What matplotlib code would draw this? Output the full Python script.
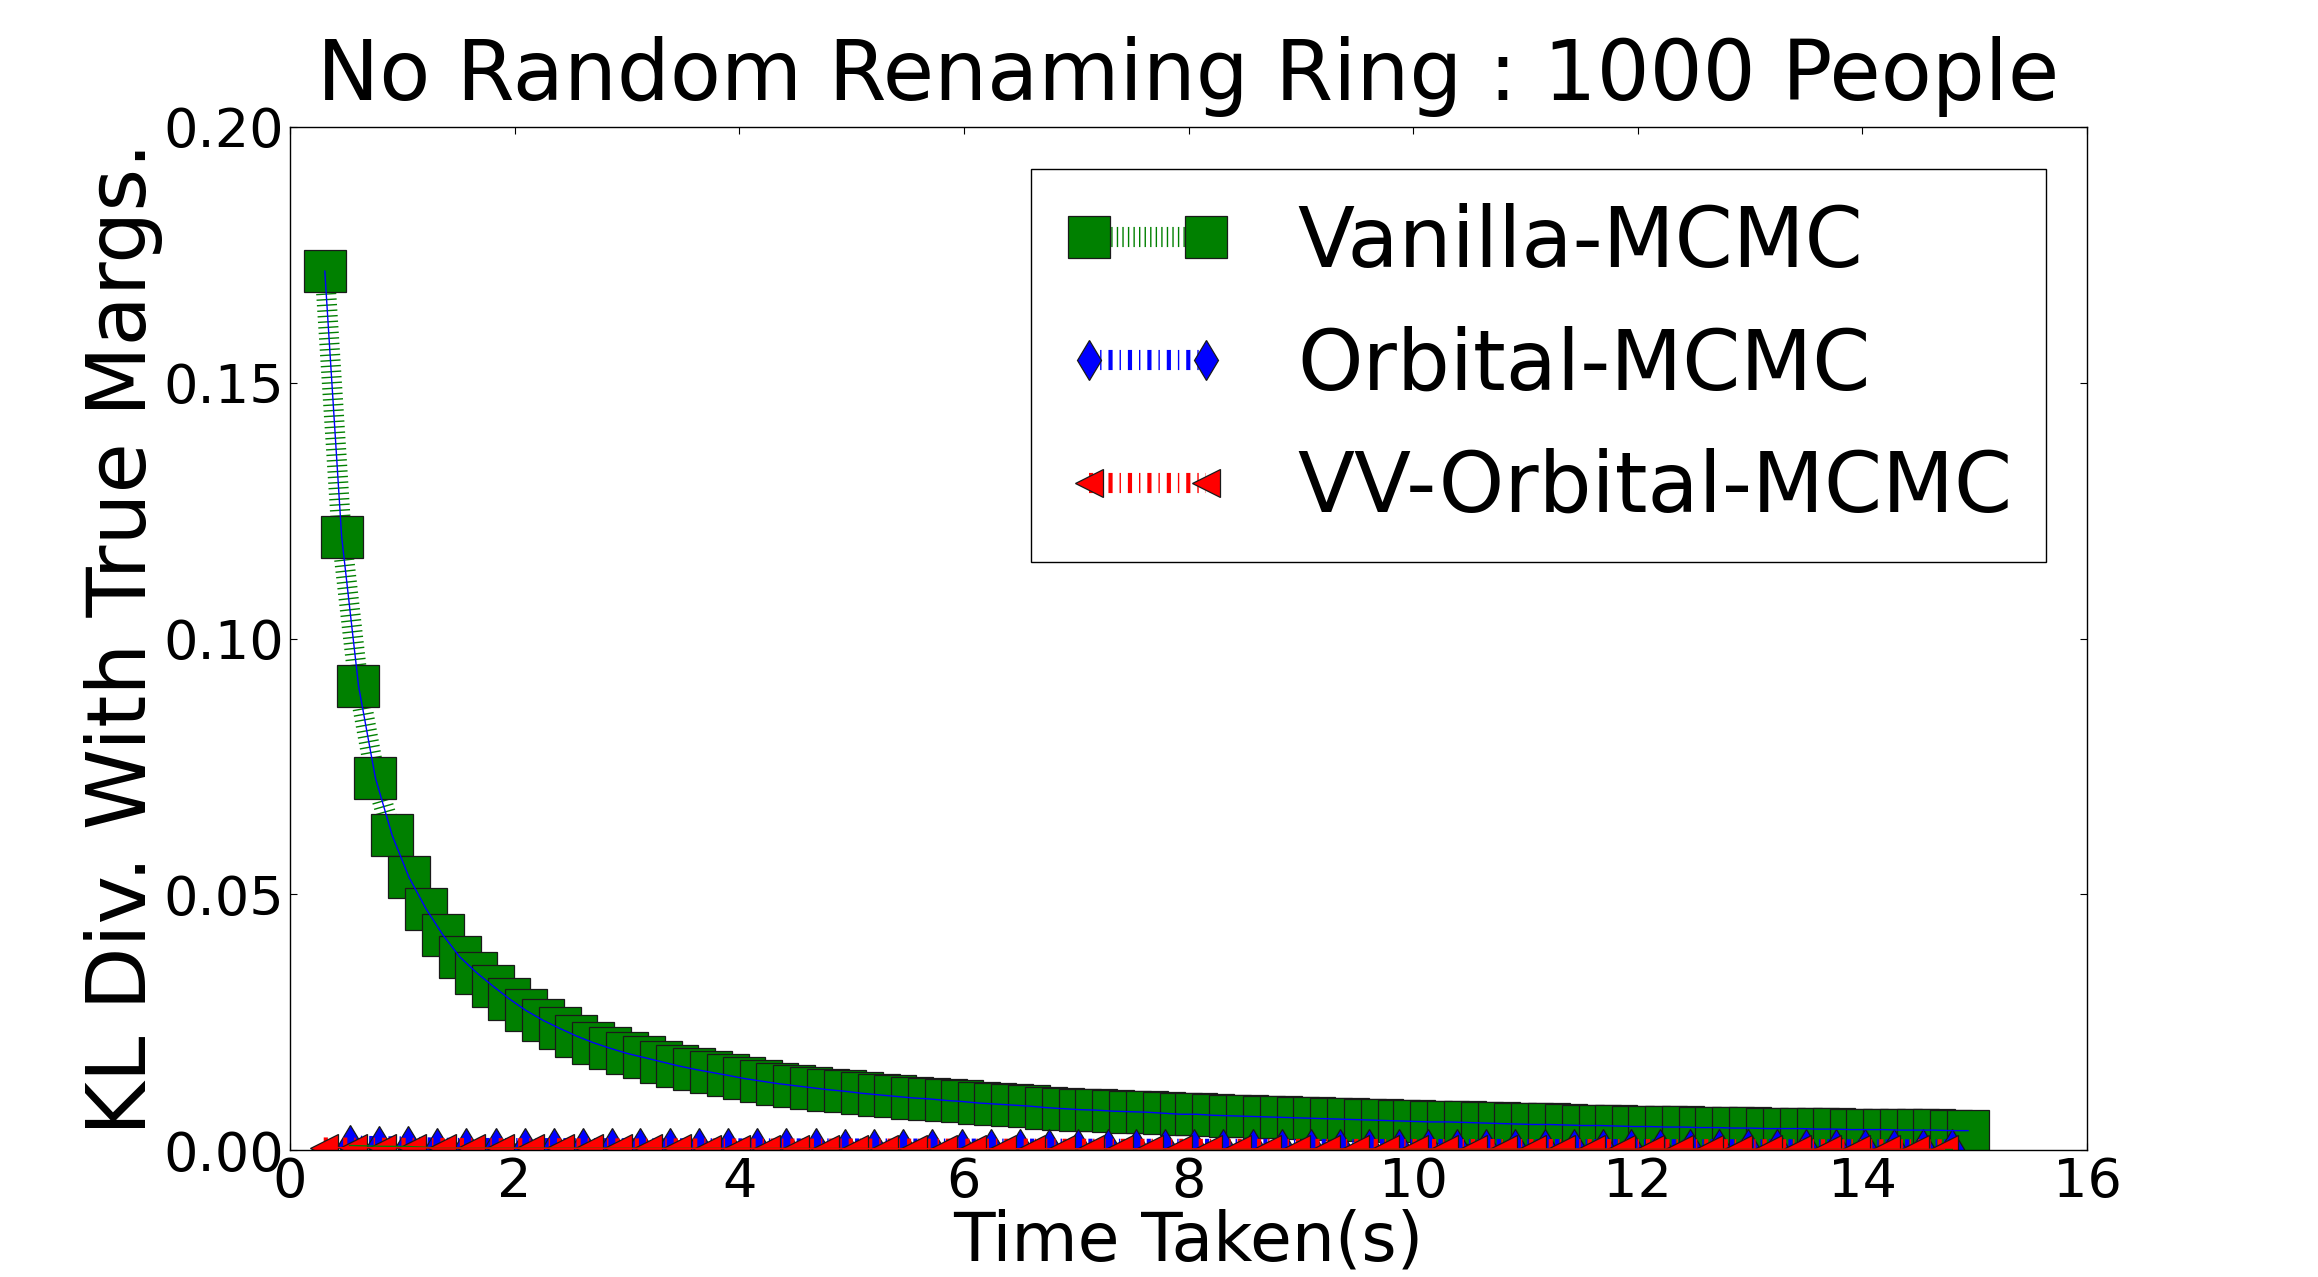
import matplotlib
matplotlib.use("Agg")
import matplotlib.pyplot as plt
from matplotlib.ticker import FormatStrFormatter

plt.rcParams['font.family'] = ['DejaVu Sans']
plt.rcParams['lines.scale_dashes'] = False

# time (s) and KL divergence
vanilla_t = [0.31, 0.46, 0.61, 0.76, 0.91, 1.06, 1.21, 1.36, 1.51, 1.66,
             1.81, 1.95, 2.10, 2.25, 2.40, 2.55, 2.70, 2.85, 3.00, 3.15,
             3.30, 3.45, 3.60, 3.75, 3.90, 4.04, 4.19, 4.34, 4.49, 4.64,
             4.79, 4.94, 5.09, 5.24, 5.39, 5.54, 5.69, 5.84, 5.98, 6.13,
             6.28, 6.43, 6.58, 6.73, 6.88, 7.03, 7.18, 7.33, 7.48, 7.63,
             7.78, 7.93, 8.07, 8.22, 8.37, 8.52, 8.67, 8.82, 8.97, 9.12,
             9.27, 9.42, 9.57, 9.72, 9.87, 10.01, 10.16, 10.31, 10.46, 10.61,
             10.76, 10.91, 11.06, 11.21, 11.36, 11.51, 11.66, 11.81, 11.96, 12.10,
             12.25, 12.40, 12.55, 12.70, 12.85, 13.00, 13.15, 13.30, 13.45, 13.60,
             13.75, 13.90, 14.04, 14.19, 14.34, 14.49, 14.64, 14.79, 14.94]
vanilla_kl = [0.1718, 0.1199, 0.0908, 0.0728, 0.0615, 0.0533, 0.0472, 0.0421, 0.0378, 0.0347,
              0.0320, 0.0296, 0.0273, 0.0254, 0.0238, 0.0223, 0.0210, 0.0199, 0.0189, 0.0181,
              0.0173, 0.0165, 0.0158, 0.0152, 0.0146, 0.0140, 0.0135, 0.0130, 0.0126, 0.0122,
              0.0118, 0.0115, 0.0111, 0.0108, 0.0105, 0.0102, 0.0100, 0.0097, 0.0095, 0.0092,
              0.0090, 0.0088, 0.0086, 0.0083, 0.0081, 0.0079, 0.0078, 0.0076, 0.0075, 0.0074,
              0.0072, 0.0070, 0.0070, 0.0068, 0.0067, 0.0066, 0.0065, 0.0064, 0.0063, 0.0062,
              0.0061, 0.0060, 0.0059, 0.0058, 0.0057, 0.0056, 0.0055, 0.0055, 0.0054, 0.0053,
              0.0052, 0.0051, 0.0050, 0.0050, 0.0049, 0.0048, 0.0048, 0.0047, 0.0046, 0.0046,
              0.0045, 0.0045, 0.0044, 0.0044, 0.0043, 0.0043, 0.0042, 0.0042, 0.0042, 0.0041,
              0.0041, 0.0040, 0.0040, 0.0040, 0.0039, 0.0039, 0.0039, 0.0038, 0.0038]

orbital_t = [0.53, 0.79, 1.05, 1.31, 1.57, 1.83, 2.09, 2.35, 2.61, 2.87,
             3.12, 3.38, 3.64, 3.90, 4.16, 4.42, 4.68, 4.94, 5.20, 5.46,
             5.72, 5.98, 6.24, 6.50, 6.76, 7.02, 7.28, 7.53, 7.79, 8.05,
             8.31, 8.57, 8.83, 9.09, 9.35, 9.61, 9.87, 10.13, 10.39, 10.65,
             10.91, 11.17, 11.43, 11.69, 11.94, 12.20, 12.46, 12.72, 12.98, 13.24,
             13.50, 13.76, 14.02, 14.28, 14.54, 14.80]
orbital_kl = [0.00090, 0.00075, 0.00070, 0.00045, 0.00040, 0.00040, 0.00038, 0.00038, 0.00036, 0.00036,
              0.00035, 0.00034, 0.00034, 0.00033, 0.00032, 0.00032, 0.00031, 0.00030, 0.00030, 0.00029,
              0.00028, 0.00028, 0.00027, 0.00027, 0.00026, 0.00026, 0.00025, 0.00025, 0.00024, 0.00024,
              0.00023, 0.00023, 0.00023, 0.00022, 0.00022, 0.00021, 0.00021, 0.00020, 0.00020, 0.00020,
              0.00019, 0.00019, 0.00018, 0.00018, 0.00018, 0.00017, 0.00017, 0.00016, 0.00016, 0.00016,
              0.00015, 0.00015, 0.00014, 0.00014, 0.00013, 0.00012]

vv_t = [0.30, 0.56, 0.82, 1.09, 1.35, 1.61, 1.87, 2.14, 2.40, 2.66,
        2.92, 3.19, 3.45, 3.71, 3.97, 4.24, 4.50, 4.76, 5.02, 5.29,
        5.55, 5.81, 6.07, 6.34, 6.60, 6.86, 7.12, 7.38, 7.65, 7.91,
        8.17, 8.43, 8.70, 8.96, 9.22, 9.48, 9.75, 10.01, 10.27, 10.53,
        10.80, 11.06, 11.32, 11.58, 11.85, 12.11, 12.37, 12.63, 12.89, 13.16,
        13.42, 13.68, 13.94, 14.21, 14.47, 14.73]
vv_kl = [0.00050, 0.00047, 0.00045, 0.00042, 0.00040, 0.00038, 0.00036, 0.00035, 0.00034, 0.00033,
         0.00032, 0.00031, 0.00031, 0.00030, 0.00030, 0.00029, 0.00029, 0.00028, 0.00028, 0.00028,
         0.00027, 0.00027, 0.00026, 0.00026, 0.00026, 0.00025, 0.00025, 0.00024, 0.00024, 0.00024,
         0.00023, 0.00023, 0.00022, 0.00022, 0.00022, 0.00021, 0.00021, 0.00020, 0.00020, 0.00020,
         0.00019, 0.00019, 0.00018, 0.00018, 0.00018, 0.00017, 0.00017, 0.00017, 0.00016, 0.00016,
         0.00016, 0.00015, 0.00015, 0.00015, 0.00014, 0.00014]

names = ["Vanilla-MCMC", "Orbital-MCMC", "VV-Orbital-MCMC"]

fig = plt.figure(figsize=(23.18, 12.77), dpi=100)
ax = fig.add_axes([0.1251, 0.0994, 0.7753, 0.8012])

ax.plot(vanilla_t, vanilla_kl, color='#008000', linestyle=(0, (1, 3)), lw=14.5,
        marker='s', ms=30.5, mec='#1a1a1a', mew=0.9, label=names[0])
ax.plot(orbital_t, orbital_kl, color='#0000ff', linestyle=(0, (3, 5, 1, 5)), lw=14.5,
        marker='d', ms=20.8, mec='#1a1a1a', mew=0.9, label=names[1])
ax.plot(vv_t, vv_kl, color='#ff0000', linestyle=(0, (3, 5, 1, 5)), lw=14.5,
        marker='<', ms=20.5, mec='#1a1a1a', mew=0.9, label=names[2])

# thin default-coloured traces drawn over the markers
ax.plot(vanilla_t, vanilla_kl, color='b', lw=1.0)
ax.plot(orbital_t, orbital_kl, color='g', lw=1.0)
ax.plot(vv_t, vv_kl, color='r', lw=1.0)

ax.set_xlim(0, 16)
ax.set_ylim(0, 0.20)
ax.set_xticks([0, 2, 4, 6, 8, 10, 12, 14, 16])
ax.set_yticks([0.0, 0.05, 0.10, 0.15, 0.20])
ax.yaxis.set_major_formatter(FormatStrFormatter('%.2f'))
ax.tick_params(direction='in', length=4.8, width=0.8, pad=4.3, labelsize=39,
               top=True, right=True)
for s in ax.spines.values():
    s.set_linewidth(1.0)

ax.set_title("No Random Renaming Ring : 1000 People", fontsize=60, pad=19.5)
ax.set_xlabel("Time Taken(s)", fontsize=49, labelpad=0)
ax.set_ylabel("KL Div. With True Margs.", fontsize=59, labelpad=0)

leg = ax.legend(loc='upper right', bbox_to_anchor=(0.977, 0.9586), borderaxespad=0,
                numpoints=2, handlelength=2, handletextpad=0.8, labelspacing=0.5,
                borderpad=0.4, fancybox=False, framealpha=1, fontsize=60)
leg.get_frame().set_edgecolor('k')
leg.get_frame().set_linewidth(1.0)

fig.savefig('out.png', dpi=100)
